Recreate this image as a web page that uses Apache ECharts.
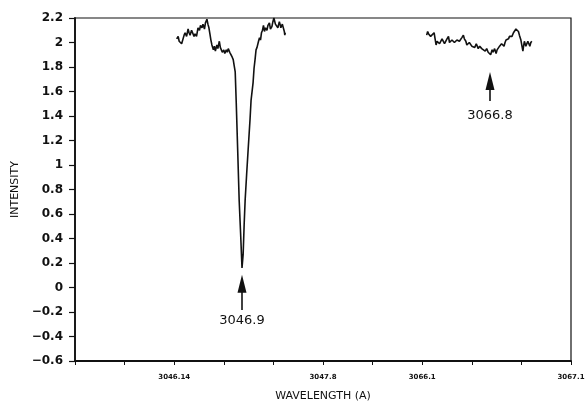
<!DOCTYPE html>
<html>
<head>
<meta charset="utf-8">
<script src="https://cdn.jsdelivr.net/npm/echarts@6/dist/echarts.min.js"></script>
<style>
  html, body { margin: 0; padding: 0; background: #fff; }
  #chart { width: 587px; height: 403px; }
</style>
</head>
<body>
<div id="chart"></div>
<script>
// Wavelength axis: evenly spaced scan positions, only some carry a wavelength label
const xTickLabels = ['', '', '3046.14', '', '', '3047.8', '', '3066.1', '', '', '3067.1'];

// First scan window: the strong absorption line near 3046.9 A
const scanA = [
  [2.05,2.03],[2.08,2.05],[2.10,2.01],[2.12,2.02],[2.15,1.99],[2.18,2.00],[2.20,2.06],[2.22,2.08],
  [2.25,2.05],[2.28,2.11],[2.30,2.08],[2.32,2.06],[2.35,2.10],[2.38,2.09],[2.40,2.05],[2.42,2.07],
  [2.45,2.05],[2.48,2.12],[2.51,2.10],[2.53,2.14],[2.56,2.12],[2.58,2.15],[2.61,2.11],[2.63,2.16],
  [2.66,2.19],[2.68,2.15],[2.70,2.12],[2.72,2.07],[2.74,2.02],[2.76,1.98],[2.79,1.94],[2.81,1.97],
  [2.83,1.93],[2.86,1.98],[2.88,1.95],[2.91,2.01],[2.93,1.96],[2.95,1.95],[2.97,1.92],[3.00,1.94],
  [3.02,1.91],[3.05,1.94],[3.07,1.92],[3.09,1.95],[3.12,1.92],[3.15,1.91],[3.17,1.88],[3.19,1.86],
  [3.21,1.81],[3.23,1.76],[3.25,1.52],[3.28,1.12],[3.31,0.71],[3.34,0.43],[3.367,0.16],[3.39,0.27],
  [3.41,0.51],[3.43,0.71],[3.46,0.92],[3.49,1.12],[3.53,1.38],[3.55,1.53],[3.59,1.67],[3.61,1.79],
  [3.63,1.86],[3.65,1.94],[3.67,1.96],[3.70,2.01],[3.72,2.04],[3.74,2.02],[3.76,2.08],[3.78,2.10],
  [3.80,2.14],[3.82,2.09],[3.84,2.12],[3.87,2.10],[3.89,2.14],[3.92,2.16],[3.94,2.11],[3.97,2.13],
  [3.99,2.17],[4.01,2.20],[4.04,2.15],[4.07,2.16],[4.09,2.12],[4.12,2.17],[4.14,2.14],[4.15,2.12],
  [4.18,2.15],[4.20,2.14],[4.22,2.09],[4.23,2.06],[4.24,2.08]
];

// Second scan window: the weak feature near 3066.8 A
const scanB = [
  [7.09,2.06],[7.11,2.09],[7.13,2.07],[7.14,2.08],[7.17,2.05],[7.19,2.06],[7.21,2.04],[7.24,2.08],
  [7.26,2.03],[7.28,1.98],[7.30,2.01],[7.33,2.02],[7.35,1.99],[7.37,2.00],[7.40,2.03],[7.43,2.03],
  [7.45,1.99],[7.48,1.99],[7.50,2.03],[7.53,2.05],[7.55,2.00],[7.58,1.99],[7.60,2.02],[7.63,2.02],
  [7.65,2.00],[7.68,1.99],[7.70,2.02],[7.73,2.03],[7.75,2.01],[7.78,2.02],[7.80,2.04],[7.83,2.06],
  [7.85,2.03],[7.88,2.01],[7.90,1.98],[7.93,1.97],[7.95,2.00],[7.98,1.99],[8.00,1.97],[8.03,1.98],
  [8.06,1.96],[8.09,1.99],[8.11,1.97],[8.13,1.95],[8.16,1.97],[8.20,1.95],[8.23,1.94],[8.27,1.93],
  [8.30,1.95],[8.33,1.92],[8.36,1.91],[8.38,1.90],[8.41,1.94],[8.43,1.92],[8.46,1.95],[8.49,1.91],
  [8.51,1.94],[8.53,1.95],[8.56,1.97],[8.60,1.99],[8.63,1.98],[8.65,1.97],[8.67,2.00],[8.69,2.02],
  [8.72,2.01],[8.74,2.03],[8.76,2.05],[8.78,2.06],[8.81,2.05],[8.84,2.08],[8.86,2.09],[8.89,2.11],
  [8.91,2.10],[8.94,2.09],[8.96,2.06],[8.97,2.05],[8.99,2.02],[9.01,2.01],[9.03,1.93],[9.04,1.96],
  [9.06,2.01],[9.07,2.00],[9.09,1.97],[9.11,1.98],[9.13,2.01],[9.15,1.99],[9.17,1.97],[9.19,2.00],
  [9.21,2.01]
];

// Identified lines: position on the scan axis and the wavelength written under the arrow
const lineX = [3.367, 8.367];
const lineNames = ['3046.9', '3066.8'];

const ink = '#111';

// Arrow shaft with its label below, ending at the middle of the arrowhead
function arrowShaft(x, yFrom, yTo, text, gap) {
  return {
    silent: true,
    animation: false,
    symbol: ['none', 'none'],
    lineStyle: { color: ink, width: 1.6, type: 'solid' },
    label: {
      show: true, position: 'start', distance: gap, formatter: text,
      color: ink, fontSize: 13, fontFamily: 'DejaVu Sans'
    },
    data: [[{ coord: [x, yFrom] }, { coord: [x, yTo] }]]
  };
}

// Narrow upward arrowhead
function arrowHead(x, yMid) {
  return {
    silent: true,
    animation: false,
    symbol: 'triangle',
    symbolSize: [9, 18],
    itemStyle: { color: ink },
    label: { show: false },
    data: [{ coord: [x, yMid] }]
  };
}

const chart = echarts.init(document.getElementById('chart'), null, { renderer: 'canvas' });
chart.setOption({
  backgroundColor: '#fff',
  animation: false,
  grid: {
    left: 75, right: 16, top: 18, bottom: 42,
    outerBoundsMode: 'none', containLabel: false,
    show: true, borderColor: ink, borderWidth: 1.2
  },
  xAxis: {
    type: 'value', min: 0, max: 10, interval: 1,
    name: 'WAVELENGTH (A)', nameLocation: 'middle', nameGap: 30,
    nameTextStyle: { color: ink, fontSize: 11, fontFamily: 'DejaVu Sans' },
    axisLine: { onZero: false, lineStyle: { color: ink, width: 1.8 } },
    axisTick: { show: true, inside: false, length: 4, lineStyle: { color: ink, width: 1 } },
    axisLabel: {
      color: ink, fontSize: 7, fontWeight: 'bold', fontFamily: 'DejaVu Sans', margin: 13,
      formatter: v => xTickLabels[Math.round(v)] || ''
    },
    splitLine: { show: false }
  },
  yAxis: {
    type: 'value', min: -0.6, max: 2.2, interval: 0.2,
    name: 'INTENSITY', nameLocation: 'middle', nameGap: 49, nameRotate: 90,
    nameTextStyle: { color: ink, fontSize: 11, fontFamily: 'DejaVu Sans' },
    axisLine: { show: true, onZero: false, lineStyle: { color: ink, width: 1.8 } },
    axisTick: { show: true, inside: false, length: 6, lineStyle: { color: ink, width: 1.2 } },
    axisLabel: {
      color: ink, fontSize: 12, fontWeight: 'bold', fontFamily: 'DejaVu Sans', margin: 12,
      formatter: v => String(+v.toFixed(1)).replace('-', '\u2212')
    },
    splitLine: { show: false }
  },
  series: [
    {
      name: 'scan 3046', type: 'line', data: scanA, showSymbol: false, symbol: 'none',
      lineStyle: { color: ink, width: 1.6 },
      markLine: arrowShaft(lineX[0], -0.184, 0.03, lineNames[0], 4),
      markPoint: arrowHead(lineX[0], 0.03)
    },
    {
      name: 'scan 3066', type: 'line', data: scanB, showSymbol: false, symbol: 'none',
      lineStyle: { color: ink, width: 1.6 },
      markLine: arrowShaft(lineX[1], 1.522, 1.686, lineNames[1], 8),
      markPoint: arrowHead(lineX[1], 1.686)
    }
  ]
});
</script>
</body>
</html>
